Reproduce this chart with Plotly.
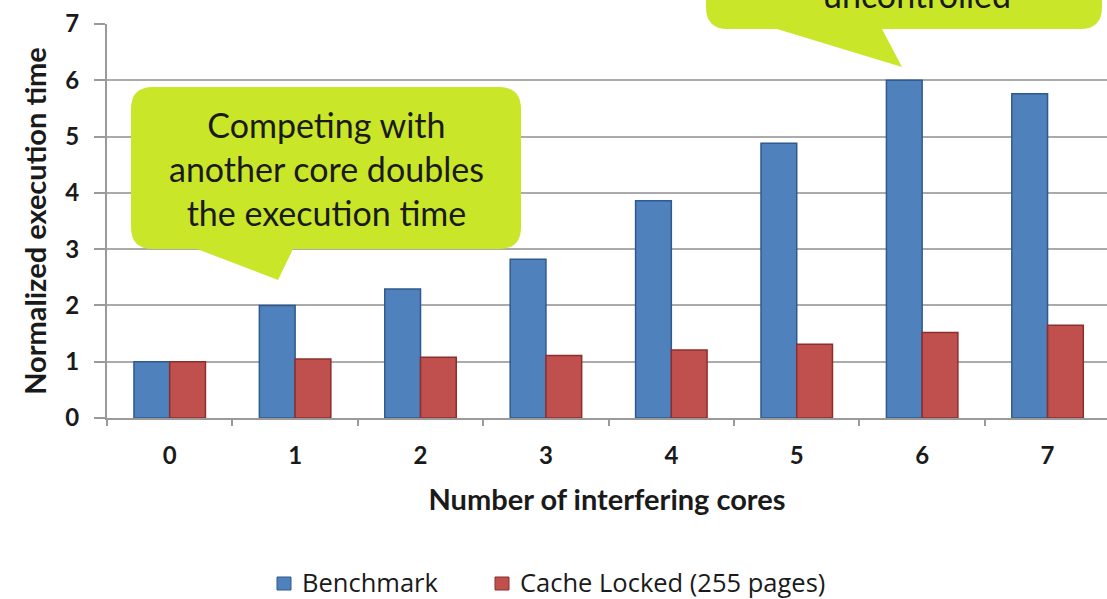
import plotly.graph_objects as go

# Data
cores = ["0", "1", "2", "3", "4", "5", "6", "7"]
benchmark = [1.0, 2.0, 2.29, 2.82, 3.86, 4.88, 6.0, 5.76]
cache_locked = [1.0, 1.05, 1.08, 1.11, 1.21, 1.31, 1.52, 1.65]

series_names = ["Benchmark", "Cache Locked (255 pages)"]
series_fill = ["#4f81bd", "#c0504d"]
series_edge = ["#2f5a8e", "#8c2f2c"]
x_title = "Number of interfering cores"
y_title = "Normalized execution time"

# Figure geometry (pixels)
FIG_W, FIG_H = 1107, 599
M_L, M_T, M_R, M_B = 107, 24, 0, 181
PW = FIG_W - M_L - M_R
PH = FIG_H - M_T - M_B

FONT = "Lato, 'Open Sans', sans-serif"
LEGEND_FONT = "'Open Sans', sans-serif"
CALLOUT = "#c9e629"
INK = "#1a1a1a"


def px(x):
    return (x - M_L) / PW


def py(y):
    return (M_T + PH - y) / PH


def callout_path(x0, y0, x1, y1, r, tail):
    # rounded rectangle with a pointer on its bottom edge (pixel coords in)
    ta, tb, tip = tail
    d = f"M {px(x0 + r)} {py(y0)} L {px(x1 - r)} {py(y0)} "
    d += f"Q {px(x1)} {py(y0)} {px(x1)} {py(y0 + r)} "
    d += f"L {px(x1)} {py(y1 - r)} "
    d += f"Q {px(x1)} {py(y1)} {px(x1 - r)} {py(y1)} "
    d += f"L {px(tb)} {py(y1)} L {px(tip[0])} {py(tip[1])} L {px(ta)} {py(y1)} "
    d += f"L {px(x0 + r)} {py(y1)} "
    d += f"Q {px(x0)} {py(y1)} {px(x0)} {py(y1 - r)} "
    d += f"L {px(x0)} {py(y0 + r)} "
    d += f"Q {px(x0)} {py(y0)} {px(x0 + r)} {py(y0)} Z"
    return d


fig = go.Figure()
for vals, name, fill, edge in zip([benchmark, cache_locked], series_names,
                                  series_fill, series_edge):
    fig.add_trace(go.Bar(
        x=cores, y=vals, name=name, showlegend=False,
        marker=dict(color=fill, line=dict(color=edge, width=1.5)),
    ))

shapes = [
    dict(type="path", xref="paper", yref="paper", layer="above",
         path=callout_path(131, 87, 521, 249, 22, (197, 293, (278, 280))),
         fillcolor=CALLOUT, line=dict(width=0)),
    dict(type="path", xref="paper", yref="paper", layer="above",
         path=callout_path(706, -80, 1102, 29, 22, (777, 882, (902, 67))),
         fillcolor=CALLOUT, line=dict(width=0)),
]

annotations = [
    dict(xref="paper", yref="paper", x=px(326), y=py(168),
         text="Competing with<br>another core doubles<br>the execution time",
         showarrow=False, align="center", xanchor="center", yanchor="middle",
         font=dict(family=FONT, size=34, color=INK)),
    dict(xref="paper", yref="paper", x=px(917), y=py(-6),
         text="uncontrolled", showarrow=False, xanchor="center", yanchor="middle",
         font=dict(family=FONT, size=34, color=INK)),
]

# Legend row below the axis title: a swatch and a label for each series
legend_swatch_x = [277, 495]
for sx, name, fill, edge in zip(legend_swatch_x, series_names, series_fill, series_edge):
    shapes.append(dict(type="rect", xref="paper", yref="paper",
                       x0=px(sx), x1=px(sx + 14), y0=py(590), y1=py(577),
                       fillcolor=fill, line=dict(color=edge, width=1)))
    annotations.append(dict(xref="paper", yref="paper", x=px(sx + 23), y=py(582),
                            text=name, showarrow=False, xanchor="left",
                            yanchor="middle",
                            font=dict(family=LEGEND_FONT, size=25.5, color=INK)))

fig.update_layout(
    width=FIG_W, height=FIG_H,
    margin=dict(l=M_L, r=M_R, t=M_T, b=M_B),
    paper_bgcolor="white", plot_bgcolor="white",
    barmode="group", bargap=0.43, bargroupgap=0,
    font=dict(family=FONT, color=INK),
    shapes=shapes, annotations=annotations,
    showlegend=False,
    xaxis=dict(
        type="category", range=[-0.5, 7.474],
        showline=True, linecolor="#9a9a9a", linewidth=2,
        ticks="outside", tickson="boundaries", ticklen=6, tickcolor="#9a9a9a",
        tickwidth=1.5,
        tickfont=dict(family=FONT, size=24, color=INK, weight="bold"),
        ticklabelstandoff=15,
        title=dict(text=f"<b>{x_title}</b>", standoff=22,
                   font=dict(family=FONT, size=29, color=INK)),
        showgrid=False,
    ),
    yaxis=dict(
        range=[0, 7], dtick=1,
        showline=True, linecolor="#9a9a9a", linewidth=2,
        ticks="outside", ticklen=11, tickcolor="#9a9a9a", tickwidth=1.5,
        showgrid=True, gridcolor="#ababab", gridwidth=2,
        tickfont=dict(family=FONT, size=24, color=INK, weight="bold"),
        ticklabelstandoff=10,
        title=dict(text=f"<b>{y_title}</b>", standoff=10,
                   font=dict(family=FONT, size=29, color=INK)),
        zeroline=False,
    ),
)

fig.write_html("out.html")
